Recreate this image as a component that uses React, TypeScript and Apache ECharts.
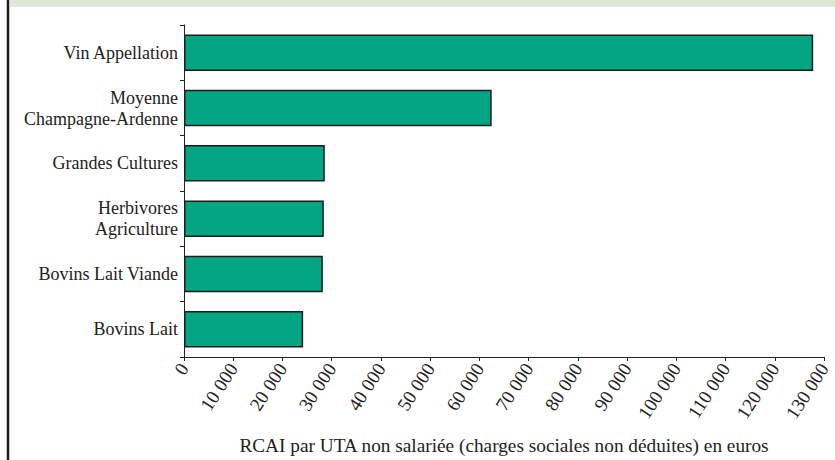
import React, { useEffect, useRef } from "react";
import * as echarts from "echarts";

const categories = [
  "Vin Appellation",
  "Moyenne\nChampagne-Ardenne",
  "Grandes Cultures",
  "Herbivores\nAgriculture",
  "Bovins Lait Viande",
  "Bovins Lait",
];
const rcaiValues = [127800, 62500, 28600, 28400, 28200, 24200];
const axisTitle = "RCAI par UTA non salariée (charges sociales non déduites) en euros";

const fmt = (v: number) => {
  const s = String(Math.round(v));
  return s.replace(/\B(?=(\d{3})+(?!\d))/g, " ");
};

export default function App() {
  const ref = useRef<HTMLDivElement>(null);
  useEffect(() => {
    if (!ref.current) return;
    const chart = echarts.init(ref.current, null, { renderer: "svg" });
    const font = "Liberation Serif";
    chart.setOption({
      animation: false,
      backgroundColor: "#ffffff",
      textStyle: { fontFamily: font },
      grid: { left: 184, right: 11, top: 25, bottom: 92, containLabel: false },
      graphic: [
        { type: "rect", left: 10, top: 0, shape: { x: 0, y: 0, width: 825, height: 7 }, style: { fill: "#dee8d2" } },
        { type: "line", shape: { x1: 8, y1: 0, x2: 8, y2: 460 }, style: { stroke: "#1a1a1a", lineWidth: 2.5 } },
      ],
      xAxis: {
        type: "value",
        min: 0,
        max: 130000,
        interval: 10000,
        name: axisTitle,
        nameLocation: "middle",
        nameGap: 79,
        nameTextStyle: { fontFamily: font, fontSize: 19.3, color: "#222" },
        axisLine: { show: true, lineStyle: { color: "#222", width: 1 } },
        axisTick: { show: true, length: 4, lineStyle: { color: "#222" } },
        splitLine: { show: false },
        axisLabel: {
          rotate: 57,
          margin: 8,
          fontFamily: font,
          fontSize: 19,
          color: "#222",
          formatter: (v: number) => fmt(v),
        },
      },
      yAxis: {
        type: "category",
        inverse: true,
        data: categories,
        axisLine: { show: true, lineStyle: { color: "#222", width: 1 } },
        axisTick: { show: true, length: 4, alignWithLabel: false, lineStyle: { color: "#222" } },
        axisLabel: {
          margin: 6,
          fontFamily: font,
          fontSize: 18,
          lineHeight: 21,
          color: "#222",
          align: "right",
        },
      },
      series: [
        {
          type: "bar",
          data: rcaiValues,
          barWidth: "66%",
          itemStyle: { color: "#03a583", borderColor: "#1c1c1c", borderWidth: 1.5 },
        },
      ],
    });
    return () => chart.dispose();
  }, []);
  return (
    <div
      ref={ref}
      style={{ position: "fixed", left: 0, top: 0, width: 835, height: 460, background: "#fff" }}
    />
  );
}
